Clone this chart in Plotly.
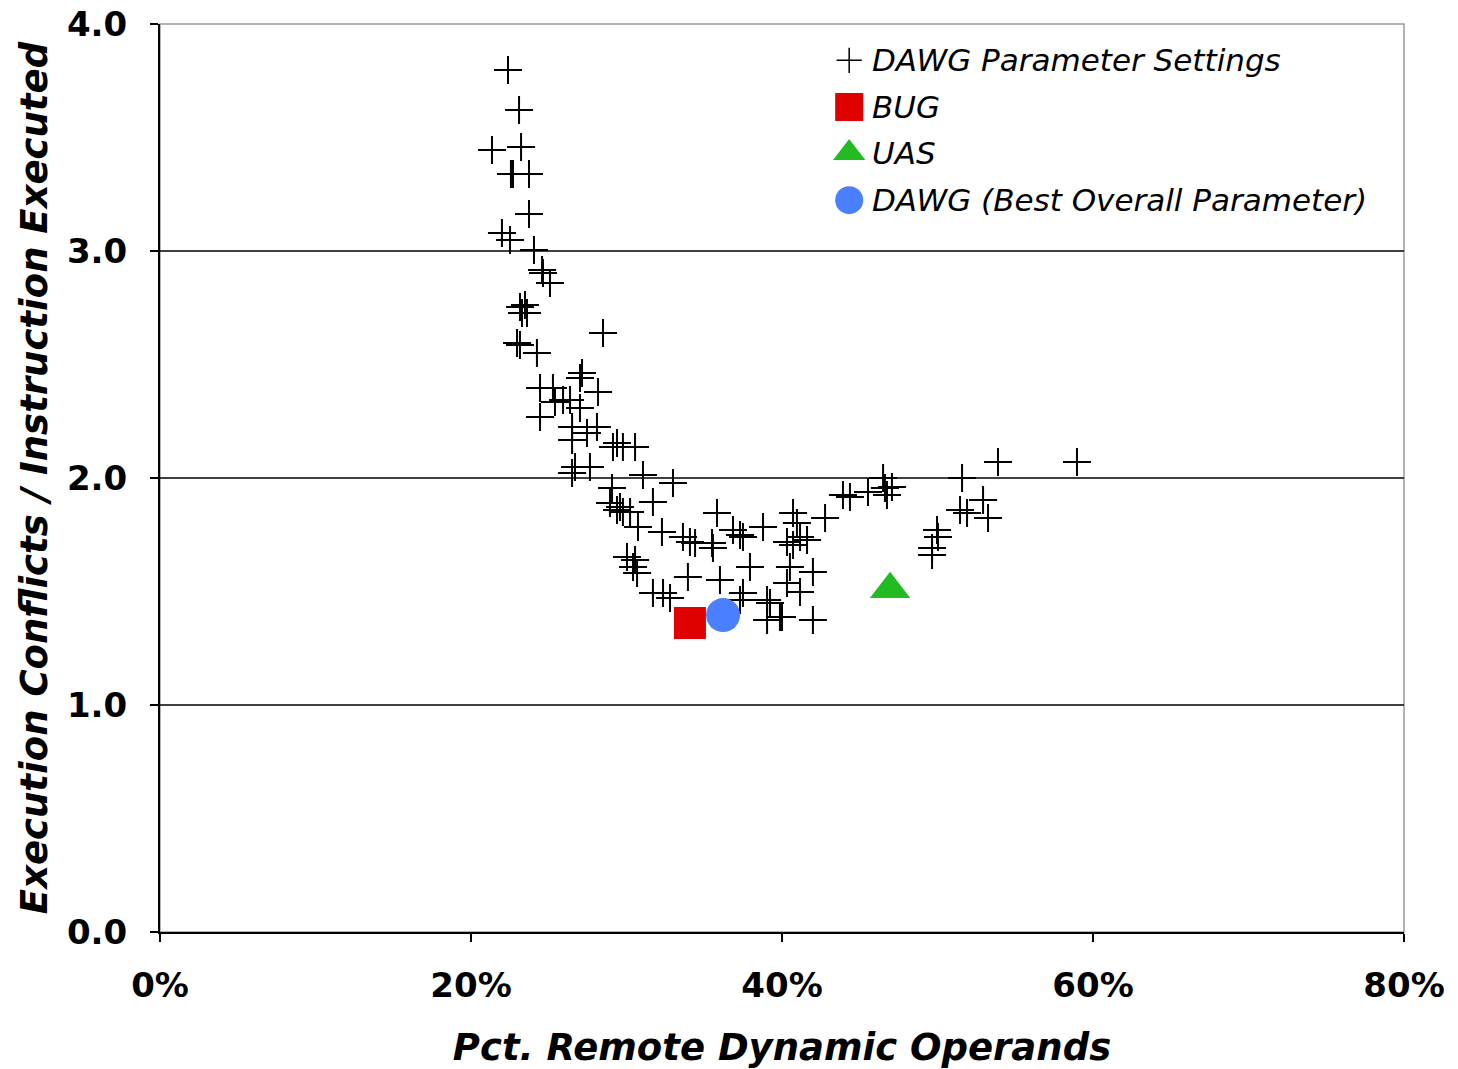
import plotly.graph_objects as go

# DAWG parameter settings (x: pct remote dynamic operands, y: conflicts/instruction)
dawg_x = [22.38, 23.09, 21.35, 23.22, 22.57, 22.70, 23.73, 23.73, 21.99, 22.51, 24.05, 24.57,
          24.63, 25.08, 23.15, 23.47, 23.28, 23.60, 28.49, 22.96, 23.15, 24.24, 27.14, 27.01,
          24.44, 25.27, 25.40, 25.92, 26.37, 27.01, 28.17, 24.44, 26.50, 28.10, 27.46, 26.50,
          29.39, 29.13, 30.55, 29.77, 26.69, 27.65, 26.50, 31.06, 32.99, 29.07, 31.70, 28.94,
          29.58, 29.77, 35.82, 29.39, 30.23, 30.74, 32.28, 33.63, 34.08, 34.41, 35.50, 35.56,
          36.85, 37.30, 38.78, 40.71, 40.96, 41.16, 40.32, 41.61, 40.71, 37.49, 42.77, 43.92,
          44.37, 45.53, 46.62, 47.07, 46.75, 46.50, 51.58, 53.89, 58.97, 49.97, 50.03, 49.65,
          49.65, 51.45, 51.90, 52.93, 53.25, 30.03, 30.55, 30.42, 30.68, 33.95, 36.01, 37.94,
          40.51, 40.32, 41.16, 41.99, 31.70, 32.35, 32.80, 37.49, 37.30, 39.04, 39.04, 39.87,
          41.99, 39.23, 40.00]
dawg_y = [3.797, 3.621, 3.445, 3.458, 3.339, 3.339, 3.339, 3.163, 3.079, 3.048, 3.004, 2.916,
          2.903, 2.859, 2.753, 2.762, 2.727, 2.727, 2.639, 2.595, 2.586, 2.551, 2.463, 2.441,
          2.396, 2.396, 2.335, 2.344, 2.344, 2.308, 2.379, 2.269, 2.225, 2.225, 2.198, 2.167,
          2.154, 2.137, 2.137, 2.137, 2.048, 2.048, 2.022, 2.013, 1.978, 1.956, 1.894, 1.890,
          1.872, 1.850, 1.846, 1.859, 1.850, 1.784, 1.762, 1.740, 1.718, 1.714, 1.714, 1.692,
          1.771, 1.749, 1.784, 1.846, 1.802, 1.740, 1.718, 1.727, 1.705, 1.740, 1.824, 1.925,
          1.916, 1.938, 1.956, 1.960, 1.925, 2.000, 2.000, 2.070, 2.070, 1.771, 1.740, 1.692,
          1.661, 1.859, 1.846, 1.903, 1.824, 1.652, 1.639, 1.608, 1.581, 1.564, 1.551, 1.608,
          1.608, 1.537, 1.498, 1.586, 1.493, 1.493, 1.471, 1.493, 1.463, 1.463, 1.374, 1.388,
          1.374, 1.449, 1.388]

bug_x = [34.08]
bug_y = [1.361]
uas_x = [46.95]
uas_y = [1.51]
best_x = [36.21]
best_y = [1.396]

legend_labels = ["DAWG Parameter Settings", "BUG", "UAS", "DAWG (Best Overall Parameter)"]
x_ticks = [0, 20, 40, 60, 80]
x_tick_text = ["0%", "20%", "40%", "60%", "80%"]
y_ticks = [0.0, 1.0, 2.0, 3.0, 4.0]
y_tick_text = ["0.0", "1.0", "2.0", "3.0", "4.0"]
grid_y = [1.0, 2.0, 3.0]

RED = "#E00000"
GREEN = "#22BB22"
BLUE = "#4A80FF"

fig = go.Figure()
fig.add_trace(go.Scatter(x=dawg_x, y=dawg_y, mode="markers", name=legend_labels[0],
                         marker=dict(symbol="cross-thin", size=20,
                                     line=dict(color="black", width=2)),
                         showlegend=False))
fig.add_trace(go.Scatter(x=bug_x, y=bug_y, mode="markers", name=legend_labels[1],
                         marker=dict(symbol="square", size=32, color=RED), showlegend=False))
fig.add_trace(go.Scatter(x=uas_x, y=uas_y, mode="markers", name=legend_labels[2],
                         marker=dict(symbol="triangle-up", size=35, color=GREEN), showlegend=False))
fig.add_trace(go.Scatter(x=best_x, y=best_y, mode="markers", name=legend_labels[3],
                         marker=dict(symbol="circle", size=34, color=BLUE), showlegend=False))

# custom legend (on overlay axes in 0..1 units)
leg_x = 0.554
leg_ys = [0.960, 0.9086, 0.858, 0.806]
leg_symbols = ["cross-thin", "square", "triangle-up", "circle"]
leg_sizes = [18, 28, 28, 28]
leg_colors = ["black", RED, GREEN, BLUE]
for sym, sz, col, ly in zip(leg_symbols, leg_sizes, leg_colors, leg_ys):
    fig.add_trace(go.Scatter(x=[leg_x], y=[ly], mode="markers", xaxis="x2", yaxis="y2",
                             showlegend=False, hoverinfo="skip",
                             marker=dict(symbol=sym, size=sz, color=col,
                                         line=dict(color=col, width=1.5 if sym == "cross-thin" else 0))))
for lab, ly in zip(legend_labels, leg_ys):
    fig.add_annotation(x=0.571, y=ly, xref="paper", yref="paper", text=lab, showarrow=False,
                       xanchor="left", yanchor="middle",
                       font=dict(family="DejaVu Sans", size=31, color="black", style="italic"))

# frame and gridlines
fig.add_shape(type="rect", xref="paper", yref="paper", x0=0, x1=1, y0=0, y1=1,
              line=dict(color="#999999", width=1.5), layer="below")
for gy in grid_y:
    fig.add_shape(type="line", xref="paper", yref="y", x0=0, x1=1, y0=gy, y1=gy,
                  line=dict(color="black", width=1.5), layer="below")

tick_font = dict(family="DejaVu Sans", size=34, color="black", weight="bold")
title_font = dict(family="DejaVu Sans", size=37, color="black", weight="bold", style="italic")

fig.update_layout(
    width=1458, height=1069,
    margin=dict(l=160, r=54, t=24, b=137),
    paper_bgcolor="white", plot_bgcolor="white",
    showlegend=False,
    xaxis=dict(range=[0, 80], tickvals=x_ticks, ticktext=x_tick_text, showgrid=False,
               zeroline=False, automargin=False, ticklabeloverflow="allow",
               showline=True, linecolor="black", linewidth=2, ticks="outside", ticklen=8,
               tickcolor="black", tickwidth=2, tickfont=tick_font, ticklabelstandoff=14,
               title=dict(text="Pct. Remote Dynamic Operands", font=title_font, standoff=30)),
    yaxis=dict(range=[0, 4], tickvals=y_ticks, ticktext=y_tick_text, showgrid=False,
               zeroline=False, automargin=False, ticklabeloverflow="allow",
               showline=True, linecolor="black", linewidth=2, ticks="outside", ticklen=8,
               tickcolor="black", tickwidth=2, tickfont=tick_font, ticklabelstandoff=16,
               title=dict(text="Execution Conflicts / Instruction Executed", font=title_font,
                          standoff=8)),
    xaxis2=dict(range=[0, 1], overlaying="x", visible=False),
    yaxis2=dict(range=[0, 1], overlaying="y", visible=False),
)

fig.write_html("out.html", config={"displayModeBar": False},
               post_script="document.body.style.margin='0';document.body.style.overflow='hidden';")
